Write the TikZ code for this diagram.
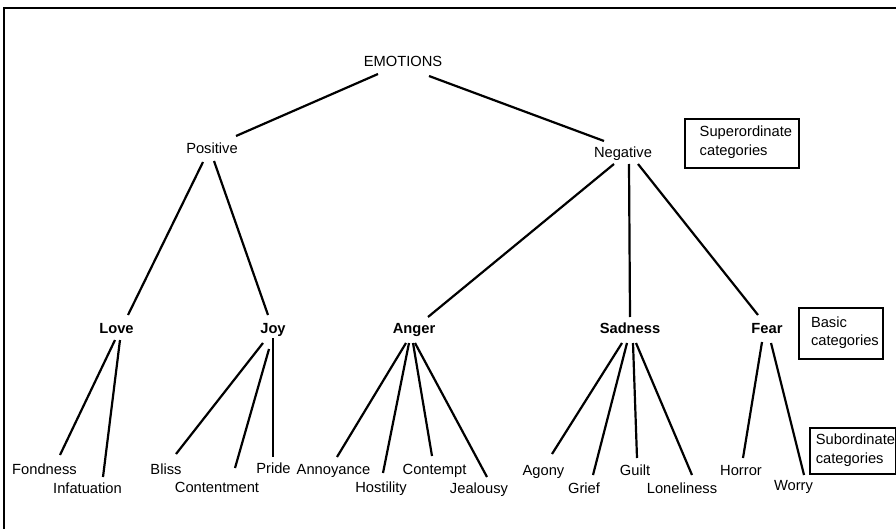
\documentclass[tikz,border=0pt]{standalone}
\usepackage{fontspec}
\setmainfont{Liberation Sans}
\usetikzlibrary{calc}
\begin{document}
\begin{tikzpicture}[x=1pt,y=-1pt,
  lbl/.style={inner sep=0pt, anchor=base, font=\fontsize{14.7}{18}\selectfont},
  basiclbl/.style={lbl, font=\fontsize{14.7}{18}\selectfont\bfseries},
  edge/.style={line width=2.2pt},
  catbox/.style={draw, line width=1.8pt, anchor=north west, align=left, inner xsep=0pt, inner ysep=0pt,
     font=\fontsize{14.7}{18.5}\selectfont},
  frameline/.style={line width=1.8pt}]
\useasboundingbox (0,0) rectangle (896,529);
% frame
\coordinate (fbl) at (4,529);
\coordinate (ftl) at (4,8);
\coordinate (ftr) at (896,8);
\draw[frameline] (fbl) -- (ftl) -- (ftr);

% top levels
\node[lbl] (emo) at (403,67) {EMOTIONS};
\node[lbl] (pos) at (212,154) {Positive};
\node[lbl] (neg) at (623,158) {Negative};

% basic level
\node[basiclbl] (love) at (116.5,333) {Love};
\node[basiclbl] (joy) at (273,333) {Joy};
\node[basiclbl] (anger) at (414,333) {Anger};
\node[basiclbl] (sad) at (630,333.5) {Sadness};
\node[basiclbl] (fear) at (767,333) {Fear};

% subordinate level
\node[lbl] (fond) at (44.5,474.5) {Fondness};
\node[lbl] (infat) at (87.5,493) {Infatuation};
\node[lbl] (bliss) at (166,474.5) {Bliss};
\node[lbl] (cont) at (217,492) {Contentment};
\node[lbl] (pride) at (273.5,473) {Pride};
\node[lbl] (annoy) at (333.5,474.5) {Annoyance};
\node[lbl] (host) at (381,492) {Hostility};
\node[lbl] (contempt) at (434.5,474.5) {Contempt};
\node[lbl] (jeal) at (479,493) {Jealousy};
\node[lbl] (agony) at (543.5,475) {Agony};
\node[lbl] (grief) at (584,493) {Grief};
\node[lbl] (guilt) at (635,475.5) {Guilt};
\node[lbl] (lone) at (682,493) {Loneliness};
\node[lbl] (horror) at (741,475.5) {Horror};
\node[lbl] (worry) at (793.5,490) {Worry};

% category boxes
\node[catbox, minimum width=114pt, minimum height=49pt, text depth=5pt] (supbox) at (684,118)
  {\hspace*{8pt}Superordinate\\\hspace*{8pt}categories};
\node[catbox, minimum width=84pt, minimum height=51pt, text depth=4pt] (basicbox) at (798,307)
  {\hspace*{8pt}Basic\\\hspace*{8pt}categories};
\node[catbox, minimum width=86pt, minimum height=46pt, text depth=4pt] (subbox) at (809,427)
  {\hspace*{5pt}Subordinate\\\hspace*{5pt}categories};

% connectors
\draw[edge] ($(emo.base)+(-25,7)$) -- ($(pos.base)+(24,-18)$);
\draw[edge] ($(emo.base)+(26,9)$) -- ($(neg.base)+(-19,-17)$);
\draw[edge] ($(pos.base)+(-9,8)$) -- ($(love.base)+(11.5,-18)$);
\draw[edge] ($(pos.base)+(2,7)$) -- ($(joy.base)+(-5,-18)$);
\draw[edge] ($(neg.base)+(-9,6)$) -- ($(anger.base)+(14,-16)$);
\draw[edge] ($(neg.base)+(6,6)$) -- ($(sad.base)+(0,-16.5)$);
\draw[edge] ($(neg.base)+(15,6)$) -- ($(fear.base)+(-9,-18)$);

\draw[edge] ($(love.base)+(-1.5,7)$) -- ($(fond.base)+(15.5,-19.5)$);
\draw[edge] ($(love.base)+(3.5,7)$) -- ($(infat.base)+(15.5,-16)$);
\draw[edge] ($(joy.base)+(-10,10)$) -- ($(bliss.base)+(10,-20.5)$);
\draw[edge] ($(joy.base)+(-4,16)$) -- ($(cont.base)+(18,-24)$);
\draw[edge] ($(joy.base)+(0,5)$) -- ($(pride.base)+(-0.5,-16)$);
\draw[edge] ($(anger.base)+(-8,10)$) -- ($(annoy.base)+(3.5,-17.5)$);
\draw[edge] ($(anger.base)+(-5,10)$) -- ($(host.base)+(2,-19)$);
\draw[edge] ($(anger.base)+(-1,10)$) -- ($(contempt.base)+(-2.5,-18.5)$);
\draw[edge] ($(anger.base)+(1,10)$) -- ($(jeal.base)+(8,-16)$);
\draw[edge] ($(sad.base)+(-8,9.5)$) -- ($(agony.base)+(8.5,-21)$);
\draw[edge] ($(sad.base)+(-3,9.5)$) -- ($(grief.base)+(9,-18)$);
\draw[edge] ($(sad.base)+(3,9.5)$) -- ($(guilt.base)+(2,-17.5)$);
\draw[edge] ($(sad.base)+(6,9.5)$) -- ($(lone.base)+(10,-18)$);
\draw[edge] ($(fear.base)+(-5,9)$) -- ($(horror.base)+(2,-17.5)$);
\draw[edge] ($(fear.base)+(4,10)$) -- ($(worry.base)+(10.5,-15)$);
\end{tikzpicture}
\end{document}
